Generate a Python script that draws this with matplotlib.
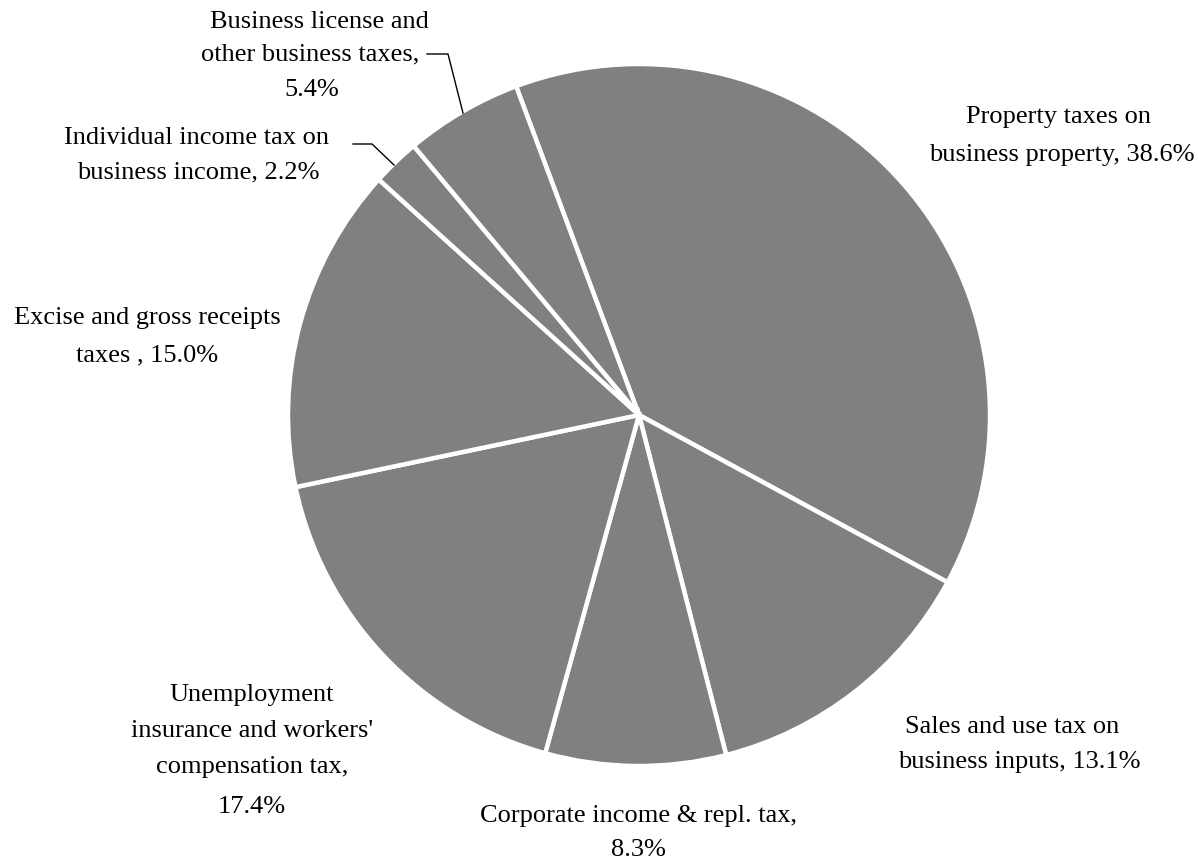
import matplotlib
matplotlib.use("Agg")
import matplotlib.pyplot as plt

categories = [
    "Property taxes on business property",
    "Sales and use tax on business inputs",
    "Corporate income & repl. tax",
    "Unemployment insurance and workers' compensation tax",
    "Excise and gross receipts taxes",
    "Individual income tax on business income",
    "Business license and other business taxes",
]
shares = [38.6, 13.1, 8.3, 17.4, 15.0, 2.2, 5.4]

# label lines (text, x, y in pixel coords from top-left)
label_lines = [
    ("Property taxes on", 1059, 117),
    ("business property, 38.6%", 1062, 155),
    ("Sales and use tax on", 1012, 727),
    ("business inputs, 13.1%", 1019, 762),
    ("Corporate income & repl. tax,", 638, 816),
    ("8.3%", 638, 850),
    ("Unemployment", 252, 695),
    ("insurance and workers'", 252, 731),
    ("compensation tax,", 252, 767),
    ("17.4%", 252, 807),
    ("Excise and gross receipts", 147, 318),
    ("taxes , 15.0%", 147, 355),
    ("Individual income tax on", 197, 138),
    ("business income, 2.2%", 198, 172),
    ("Business license and", 319, 22),
    ("other business taxes,", 310, 54),
    ("5.4%", 312, 90),
]

W, H = 1198, 859
fig = plt.figure(figsize=(W / 100, H / 100), dpi=100)
ax = fig.add_axes([0, 0, 1, 1])

cx, cy, r = 639, H - 415, 351
ax.pie(shares, center=(cx, cy), radius=r, startangle=110.5, counterclock=False,
       colors=["#808080"] * len(shares),
       wedgeprops=dict(edgecolor="white", linewidth=3.2), frame=True)
ax.set_xlim(0, W)
ax.set_ylim(0, H)
ax.set_aspect("equal")
ax.axis("off")

for txt, x, y in label_lines:
    ax.text(x, H - y, txt, ha="center", va="center", fontsize=19,
            family="Liberation Serif", color="black")

# leader lines
ax.plot([427, 448, 463], [H - 54, H - 54, H - 113], color="black", lw=1.0)
ax.plot([353, 372, 394], [H - 144, H - 144, H - 165], color="black", lw=1.0)

fig.savefig("out.png", dpi=100)
